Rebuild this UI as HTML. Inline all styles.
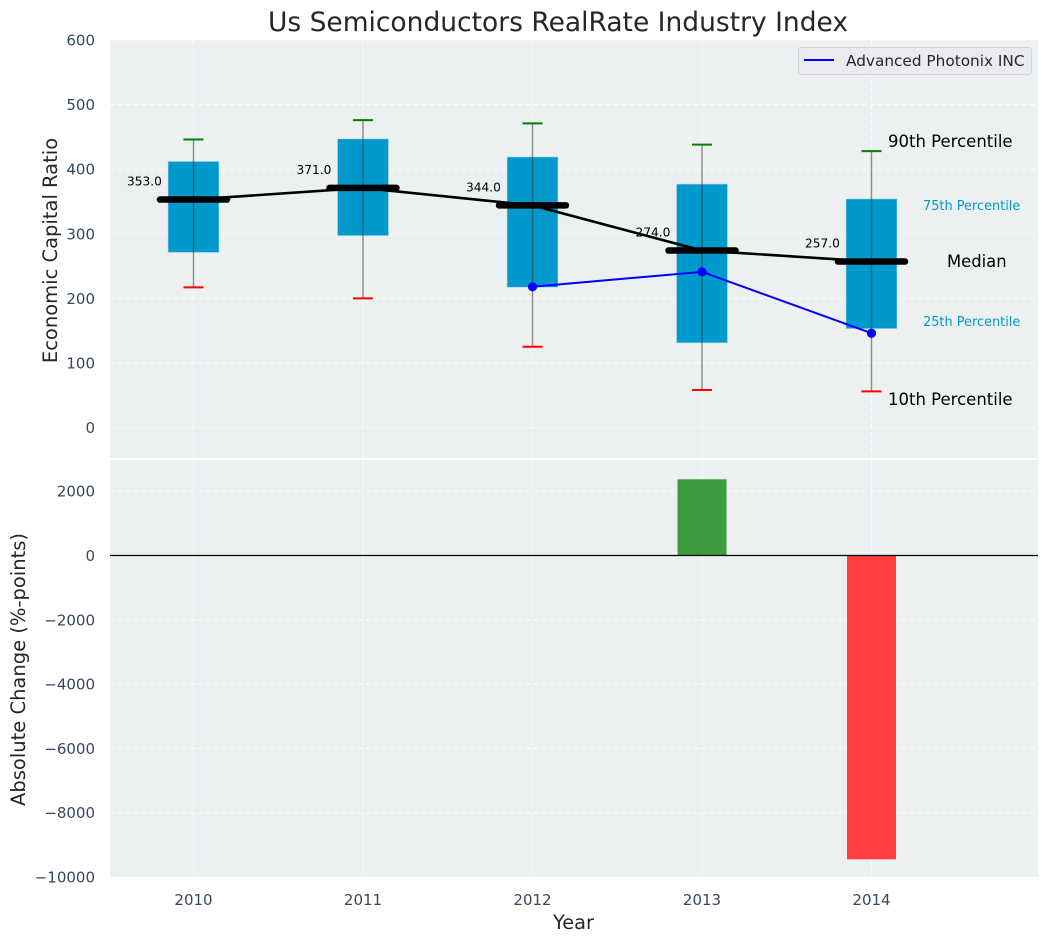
<!DOCTYPE html>
<html>
<head>
<meta charset="utf-8">
<title>Us Semiconductors RealRate Industry Index</title>
<style>
html,body{margin:0;padding:0;background:#fff;}
svg{display:block;font-family:"DejaVu Sans","Liberation Sans",sans-serif;}
</style>
</head>
<body>
<svg id="chart" width="1048" height="942" viewBox="0 0 1048 942" xmlns="http://www.w3.org/2000/svg">
  <rect x="110" y="40" width="928" height="418" fill="#ecf0f1"/>
  <rect x="110" y="460" width="928" height="417" fill="#ecf0f1"/>
  <g id="grid"></g>
  <g id="boxes"></g>
  <g id="bars"></g>
  <g id="ticks"></g>
  <text x="558" y="31" text-anchor="middle" font-size="26.5" fill="#262626">Us Semiconductors RealRate Industry Index</text>
  <text transform="translate(57,250.5) rotate(-90)" text-anchor="middle" font-size="19.5" fill="#262626">Economic Capital Ratio</text>
  <text transform="translate(25,669.5) rotate(-90)" text-anchor="middle" font-size="19.5" fill="#262626">Absolute Change (%-points)</text>
  <text x="573.5" y="929" text-anchor="middle" font-size="19.4" fill="#262626">Year</text>
  <g>
    <rect x="798.5" y="47.5" width="233" height="27" rx="3" fill="#e9ebf0" stroke="#cfd2d6" stroke-width="1"/>
    <line x1="804" y1="60" x2="834" y2="60" stroke="#0000ff" stroke-width="2"/>
    <text x="846" y="66" font-size="15.3" fill="#262626">Advanced Photonix INC</text>
  </g>
  <g>
    <text x="888" y="147" font-size="16.5" fill="#000">90th Percentile</text>
    <text x="923" y="210" font-size="12.9" fill="#0099cc">75th Percentile</text>
    <text x="947" y="267" font-size="16.4" fill="#000">Median</text>
    <text x="923" y="326" font-size="12.9" fill="#0099cc">25th Percentile</text>
    <text x="888" y="405" font-size="16.5" fill="#000">10th Percentile</text>
  </g>
</svg>
<script>
const years = [2010, 2011, 2012, 2013, 2014];
const p90 = [446, 476, 471, 438, 428];
const p75 = [412, 447, 419, 377, 354];
const medians = [353, 371, 344, 274, 257];
const p25 = [271, 297, 217, 131, 153];
const p10 = [217, 200, 125, 58, 56];
const companyYears = [2012, 2013, 2014];
const companyValues = [218, 241, 146];
const changeYears = [2013, 2014];
const changeValues = [2370, -9450];
const topTicks = [0, 100, 200, 300, 400, 500, 600];
const bottomTicks = [2000, 0, -2000, -4000, -6000, -8000, -10000];

const NS = 'http://www.w3.org/2000/svg';
const xScale = v => 193.5 + (v - 2010) * 169.5;
const yTop = v => 427.5 - v * 0.6458;
const yBottom = v => 555.5 - v * 0.03215;

function mk(parent, tag, attrs, txt) {
  const el = document.createElementNS(NS, tag);
  for (const k in attrs) el.setAttribute(k, attrs[k]);
  if (txt !== undefined) el.textContent = txt;
  parent.appendChild(el);
  return el;
}
const grid = document.getElementById('grid');
const boxes = document.getElementById('boxes');
const bars = document.getElementById('bars');
const ticks = document.getElementById('ticks');
const dash = {stroke: '#ffffff', 'stroke-width': 1.1, 'stroke-dasharray': '5 3', opacity: 0.75};

topTicks.forEach(t => {
  const y = yTop(t);
  const g = mk(grid, 'line', Object.assign({x1: 110, x2: 1038, y1: y, y2: y}, dash));
  
  
  const l = mk(ticks, 'text', {x: 95, y: y + 5.5, 'text-anchor': 'end', 'font-size': 15, fill: '#34495e'}, String(t));
  
  
});
bottomTicks.forEach(t => {
  const y = yBottom(t);
  const g = mk(grid, 'line', Object.assign({x1: 110, x2: 1038, y1: y, y2: y}, dash));
  
  
  const l = mk(ticks, 'text', {x: 95, y: y + 5.5, 'text-anchor': 'end', 'font-size': 15, fill: '#34495e'}, String(t).replace('-', '\u2212'));
  
  
});
years.forEach(yr => {
  const x = xScale(yr);
  const a = mk(grid, 'line', Object.assign({x1: x, x2: x, y1: 40, y2: 458}, dash));
  
  
  const b = mk(grid, 'line', Object.assign({x1: x, x2: x, y1: 460, y2: 877}, dash));
  
  
  const l = mk(ticks, 'text', {x: x, y: 905, 'text-anchor': 'middle', 'font-size': 15, fill: '#34495e'}, String(yr));
  
  
});

years.forEach((yr, i) => {
  const x = xScale(yr);
  const top = yTop(p75[i]), bot = yTop(p25[i]);
  const r = mk(boxes, 'rect', {x: x - 25.5, y: top, width: 51, height: bot - top, fill: '#0099cc', stroke: '#bfe0ec', 'stroke-width': 0.6});
  
  
});

const medianPath = mk(boxes, 'polyline', {
  points: years.map((yr, i) => xScale(yr) + ',' + yTop(medians[i])).join(' '),
  fill: 'none', stroke: '#000', 'stroke-width': 2.6
});



const companyPath = mk(boxes, 'polyline', {
  points: companyYears.map((yr, i) => xScale(yr) + ',' + yTop(companyValues[i])).join(' '),
  fill: 'none', stroke: '#0000ff', 'stroke-width': 2
});



years.forEach((yr, i) => {
  const x = xScale(yr);
  const w = mk(boxes, 'line', {x1: x, x2: x, y1: yTop(p90[i]), y2: yTop(p10[i]), stroke: '#333', 'stroke-width': 1.4, opacity: 0.55});
  
  
  const c1 = mk(boxes, 'line', {x1: x - 10, x2: x + 10, y1: yTop(p90[i]), y2: yTop(p90[i]), stroke: '#008000', 'stroke-width': 2});
  
  
  const c2 = mk(boxes, 'line', {x1: x - 10, x2: x + 10, y1: yTop(p10[i]), y2: yTop(p10[i]), stroke: '#ff0000', 'stroke-width': 2});
  
  
  const m = mk(boxes, 'line', {x1: x - 33.5, x2: x + 33.5, y1: yTop(medians[i]), y2: yTop(medians[i]), stroke: '#000', 'stroke-width': 6.5, 'stroke-linecap': 'round'});
  
  
  const t = mk(boxes, 'text', {x: x - 49, y: yTop(medians[i]) - 14, 'text-anchor': 'middle', 'font-size': 12.2, fill: '#000'}, medians[i].toFixed(1));
  
  
});

companyYears.forEach((yr, i) => {
  const p = mk(boxes, 'circle', {cx: xScale(yr), cy: yTop(companyValues[i]), r: 4.6, fill: '#0000ff'});
  
  
});

changeYears.forEach((yr, i) => {
  const v = changeValues[i];
  const y0 = yBottom(Math.max(v, 0)), y1 = yBottom(Math.min(v, 0));
  const b = mk(bars, 'rect', {x: xScale(yr) - 24.5, y: y0, width: 49, height: y1 - y0, fill: v >= 0 ? '#3a9c3f' : '#ff4040'});
  
  
});
const zero = mk(bars, 'line', {x1: 110, x2: 1038, y1: yBottom(0), y2: yBottom(0), stroke: '#000', 'stroke-width': 1.3});


</script>
</body>
</html>
